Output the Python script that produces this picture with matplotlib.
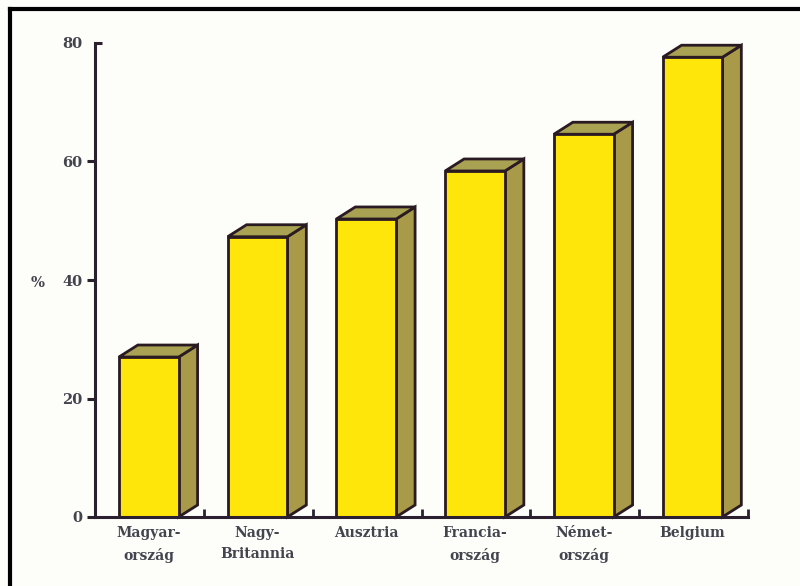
import matplotlib
matplotlib.use("Agg")
import matplotlib.pyplot as plt
from matplotlib.patches import Polygon, Rectangle
from matplotlib.lines import Line2D

categories = ["Magyar-\nország", "Nagy-\nBritannia", "Ausztria", "Francia-\nország", "Német-\nország", "Belgium"]
values = [27, 47.3, 50.3, 58.4, 64.6, 77.6]
yticks = [0, 20, 40, 60, 80]

W, H = 800, 586
fig = plt.figure(figsize=(W / 100, H / 100), dpi=100)
bg = "#fdfdf9"
fig.patch.set_facecolor(bg)

x0_px, x1_px = 95, 748
y0_px, y80_px = 517, 43
ax = fig.add_axes([x0_px / W, 1 - y0_px / H, (x1_px - x0_px) / W, (y0_px - y80_px) / H])
ax.set_facecolor(bg)

spacing_px = 109.2
c0_px = 149
ax.set_xlim((x0_px - c0_px) / spacing_px, (x1_px - c0_px) / spacing_px)
ax.set_ylim(0, 80)

bw = 60 / spacing_px
dx = 19 / spacing_px
dy = 12 / ((y0_px - y80_px) / 80)

front = "#ffe60a"
side = "#a89a48"
top = "#a9a253"
edge = "#2a1a22"

for i, v in enumerate(values):
    xl = i - bw / 2
    xr = i + bw / 2
    ax.add_patch(Polygon([(xr, 0), (xr + dx, dy), (xr + dx, v + dy), (xr, v)],
                         closed=True, facecolor=side, edgecolor=edge, lw=2.0, clip_on=False, zorder=2))
    ax.add_patch(Polygon([(xl, v), (xr, v), (xr + dx, v + dy), (xl + dx, v + dy)],
                         closed=True, facecolor=top, edgecolor=edge, lw=2.0, clip_on=False, zorder=2))
    ax.add_patch(Rectangle((xl, 0), bw, v, facecolor=front, edgecolor=edge, lw=2.0, clip_on=False, zorder=3))

for s in ["top", "right"]:
    ax.spines[s].set_visible(False)
for s in ["left", "bottom"]:
    ax.spines[s].set_linewidth(2.2)
    ax.spines[s].set_color("#2a2030")
    ax.spines[s].set_zorder(4)

ax.set_yticks(yticks)
ax.set_yticklabels([str(t) for t in yticks], fontfamily="DejaVu Serif", fontweight="bold",
                   fontsize=10.5, color="#44444e")
ax.tick_params(axis="y", direction="out", length=6, width=2.2, color="#2a2030", pad=3)
ax.yaxis.get_major_ticks()[-1].tick1line.set_visible(False)

# cap at the top of the y axis (pointing right)
ax.plot([ax.get_xlim()[0], ax.get_xlim()[0] + 7 / spacing_px], [80, 80], color="#2a2030", lw=2.2,
        clip_on=False, zorder=4, solid_capstyle="butt")

# small upward ticks at right of each bar on the baseline
ax.set_xticks([i + 0.51 for i in range(len(categories))])
ax.set_xticklabels([])
ax.tick_params(axis="x", direction="in", length=6, width=2, color="#2a2030")

for i, lab in enumerate(categories):
    ax.text(i, -1.6, lab, ha="center", va="top", fontfamily="DejaVu Serif", fontweight="bold",
            fontsize=10, color="#44444f", linespacing=1.6)

fig.text(38 / W, 1 - 283 / H, "%", ha="center", va="center", fontfamily="DejaVu Serif",
         fontweight="bold", fontsize=10.5, color="#44444e")

# partial frame (top and left edges)
fig.add_artist(Line2D([10 / W, 10 / W], [0, 1 - 9 / H], transform=fig.transFigure, color="black", lw=3))
fig.add_artist(Line2D([10 / W, 1], [1 - 9 / H, 1 - 9 / H], transform=fig.transFigure, color="black", lw=3))

fig.savefig("out.png", dpi=100, facecolor=bg)
